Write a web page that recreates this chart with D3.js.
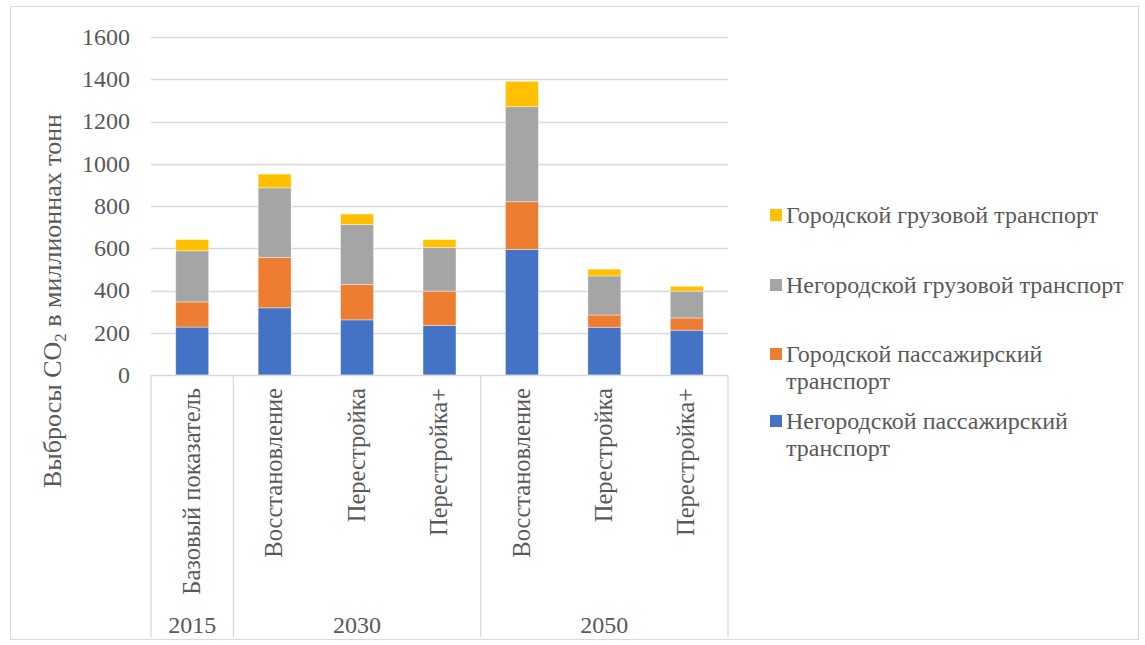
<!DOCTYPE html>
<html lang="ru">
<head>
<meta charset="UTF-8">
<title>Выбросы CO2</title>
<script src="https://d3js.org/d3.v7.min.js"></script>
<style>
  body { margin: 0; background: #fff; }
  svg text { font-family: "Liberation Serif", "Times New Roman", serif; fill: #595959; }
</style>
</head>
<body>
<svg width="1145" height="645"></svg>
<script>
  // categories (scenario / year)
  const scenarios = ["Базовый показатель", "Восстановление", "Перестройка", "Перестройка+",
                     "Восстановление", "Перестройка", "Перестройка+"];
  const years = ["2015", "2030", "2050"];
  const yearCounts = [1, 3, 3];

  // series, millions of tonnes
  const seriesNames = ["Негородской пассажирский транспорт", "Городской пассажирский транспорт",
                       "Негородской грузовой транспорт", "Городской грузовой транспорт"];
  const intercityPassenger = [227, 318, 261, 234, 594, 226, 212];
  const urbanPassenger     = [119, 238, 167, 163, 226, 58, 58];
  const intercityFreight   = [242, 330, 285, 207, 450, 185, 127];
  const urbanFreight       = [53, 65, 49, 37, 120, 32, 23];
  const colors = ["#4472C4", "#ED7D31", "#A5A5A5", "#FFC000"];
  const yTicks = [0, 200, 400, 600, 800, 1000, 1200, 1400, 1600];

  const svg = d3.select("svg");
  const plotLeft = 151, plotRight = 728, plotTop = 37, plotBottom = 375, axisBottom = 637;

  const rows = scenarios.map((s, i) => ({
    i: i, s0: intercityPassenger[i], s1: urbanPassenger[i], s2: intercityFreight[i], s3: urbanFreight[i]
  }));
  const stack = d3.stack().keys(["s0", "s1", "s2", "s3"]);
  const layers = stack(rows);

  const x = d3.scaleBand().domain(d3.range(scenarios.length)).range([plotLeft, plotRight])
    .paddingInner(0.6).paddingOuter(0.3);
  const y = d3.scaleLinear().domain([0, 1600]).range([plotBottom, plotTop]);

  // chart border
  svg.append("rect").attr("x", 10.5).attr("y", 6.5).attr("width", 1128).attr("height", 633)
    .attr("fill", "none").attr("stroke", "#d9d9d9");

  // gridlines
  svg.append("g").selectAll("line").data(yTicks.filter(d => d > 0)).join("line")
    .attr("x1", plotLeft).attr("x2", plotRight)
    .attr("y1", d => Math.round(y(d)) + 0.5).attr("y2", d => Math.round(y(d)) + 0.5)
    .attr("stroke", "#d9d9d9").attr("stroke-width", 1.3);

  // y tick labels
  svg.append("g").selectAll("text").data(yTicks).join("text")
    .attr("x", 130).attr("y", d => y(d)).attr("dy", "0.33em")
    .attr("text-anchor", "end").attr("font-size", 24).text(d => d);

  // y axis title
  const yt = svg.append("text").attr("transform", "translate(61,301) rotate(-90)")
    .attr("text-anchor", "middle").attr("font-size", 26);
  yt.append("tspan").text("Выбросы CO");
  yt.append("tspan").attr("font-size", 17).attr("dy", 5).text("2");
  yt.append("tspan").attr("dy", -5).text(" в миллионнах тонн");

  // bars
  svg.append("g").selectAll("g").data(layers).join("g")
    .attr("fill", (d, k) => colors[k])
    .selectAll("rect").data(d => d).join("rect")
    .attr("x", d => x(d.data.i)).attr("width", x.bandwidth())
    .attr("y", d => y(d[1])).attr("height", d => y(d[0]) - y(d[1]))
    .attr("stroke", "#fff").attr("stroke-opacity", 0.5).attr("stroke-width", 0.8);

  // category axis: horizontal line and group separators
  svg.append("line").attr("x1", plotLeft).attr("x2", plotRight)
    .attr("y1", plotBottom + 0.5).attr("y2", plotBottom + 0.5)
    .attr("stroke", "#d9d9d9").attr("stroke-width", 1.3);
  const bounds = [0];
  yearCounts.forEach(c => bounds.push(bounds[bounds.length - 1] + c));
  const step = x.step();
  const bx = b => plotLeft + step * b;
  svg.append("g").selectAll("line").data(bounds).join("line")
    .attr("x1", d => bx(d)).attr("x2", d => bx(d)).attr("y1", plotBottom).attr("y2", axisBottom)
    .attr("stroke", "#d9d9d9").attr("stroke-width", 1.3);

  // scenario labels (rotated)
  svg.append("g").selectAll("text").data(scenarios).join("text")
    .attr("transform", (d, i) => `translate(${x(i) + x.bandwidth() / 2 - 1},388) rotate(-90)`)
    .attr("text-anchor", "end").attr("dy", "0.35em").attr("font-size", 24.5).text(d => d);

  // year labels
  svg.append("g").selectAll("text").data(years).join("text")
    .attr("x", (d, k) => (bx(bounds[k]) + bx(bounds[k + 1])) / 2).attr("y", 633)
    .attr("text-anchor", "middle").attr("font-size", 24).text(d => d);

  // legend (reverse order, top = last series)
  const legendItems = [
    { k: 3, lines: ["Городской грузовой транспорт"], y: 215 },
    { k: 2, lines: ["Негородской грузовой транспорт"], y: 285 },
    { k: 1, lines: ["Городской пассажирский", "транспорт"], y: 354 },
    { k: 0, lines: ["Негородской пассажирский", "транспорт"], y: 421 }
  ];
  const lg = svg.append("g").selectAll("g").data(legendItems).join("g")
    .attr("transform", d => `translate(770,${d.y})`);
  lg.append("rect").attr("x", 0).attr("y", -6).attr("width", 12).attr("height", 12)
    .attr("fill", d => colors[d.k]);
  lg.append("text").attr("x", 16).attr("font-size", 24)
    .selectAll("tspan").data(d => d.lines).join("tspan")
    .attr("x", 16).attr("y", (d, j) => j * 27).attr("dy", "0.33em").text(d => d);
</script>
</body>
</html>
